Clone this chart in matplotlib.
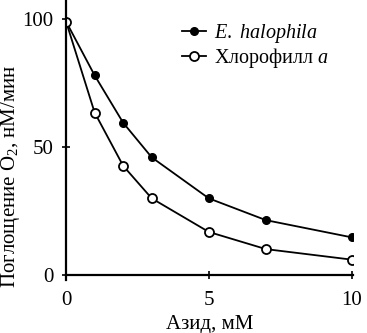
import matplotlib
matplotlib.use('Agg')
import matplotlib.pyplot as plt

plt.rcParams['font.family'] = ['Liberation Serif', 'DejaVu Serif']
plt.rcParams['mathtext.fontset'] = 'custom'
plt.rcParams['mathtext.rm'] = 'Liberation Serif'
plt.rcParams['mathtext.it'] = 'Liberation Serif:italic'

azide = [0, 1, 2, 3, 5, 7, 10]
halophila = [99, 78, 59.5, 46, 30, 21.5, 14.8]
chlorophyll = [99, 63.5, 42.7, 30, 16.9, 10.2, 6.1]

x_ticks = [0, 5, 10]
y_ticks = [0, 50, 100]

fig = plt.figure(figsize=(3.67, 3.33), dpi=100)
ax = fig.add_axes([0.180, 0.158, 0.782, 0.842])

ax.plot(azide, halophila, c='black', lw=1.3, marker='o', markersize=5.5,
        markerfacecolor='black', label=r'$\it{E.\ halophila}$')
ax.plot(azide, chlorophyll, c='black', lw=1.3, marker='o', markersize=6.5,
        markerfacecolor='white', markeredgewidth=1.3, label=r'Хлорофилл $\it{a}$')

ax.set_xlim(0, 10.05)
ax.set_ylim(-2, 107.4)
ax.spines['right'].set_visible(False)
ax.spines['top'].set_visible(False)
ax.spines['bottom'].set_position(('data', 0))
ax.spines['left'].set_linewidth(1.6)
ax.spines['bottom'].set_linewidth(1.6)
ax.set_xticks(x_ticks)
ax.set_yticks(y_ticks)
ax.tick_params(direction='inout', length=6, width=1.2, labelsize=15, pad=6)
ax.tick_params(axis='x', pad=8)

ax.set_xlabel('Азид, мМ', fontsize=15)
ax.xaxis.set_label_coords(0.5, -0.125)
ax.set_ylabel('Поглощение O$_2$, нМ/мин', fontsize=15)
ax.yaxis.set_label_coords(-0.155, 0.37)

ax.legend(loc='upper left', bbox_to_anchor=(0.375, 0.95), frameon=False,
          fontsize=14.5, handlelength=1.2, handletextpad=0.4, labelspacing=0.05,
          borderaxespad=0)

fig.savefig('out.png', dpi=100)
